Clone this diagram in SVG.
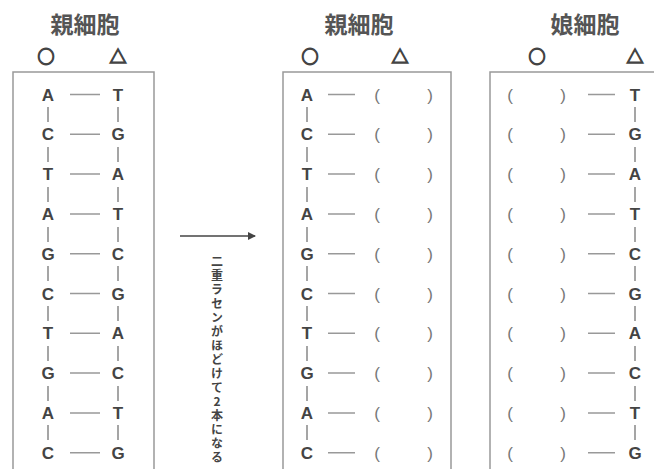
<svg xmlns="http://www.w3.org/2000/svg" width="654" height="469" viewBox="0 0 654 469">
<style>
.hd{font-family:"Noto Sans CJK JP",sans-serif;font-size:23px;font-weight:700;fill:#555;text-anchor:middle}
.sym{font-family:"Noto Sans CJK JP",sans-serif;font-size:17px;font-weight:700;fill:#444;stroke:#444;stroke-width:1.3;text-anchor:middle}
.box{fill:none;stroke:#999;stroke-width:1.5}
.b{font-family:"Liberation Sans",Arial,sans-serif;font-size:17px;font-weight:700;fill:#444;text-anchor:middle}
.p{font-family:"Liberation Sans",Arial,sans-serif;font-size:17px;fill:#777;text-anchor:middle}
.ln{stroke:#999;stroke-width:1.5}
.vb{stroke:#888;stroke-width:1.5}
.vt{font-family:"Noto Sans CJK JP",sans-serif;font-size:12px;font-weight:700;fill:#444;writing-mode:vertical-rl;text-orientation:upright;letter-spacing:2px}
</style>
<defs>
<marker id="ah" markerWidth="8" markerHeight="8" refX="7" refY="4" orient="auto" markerUnits="userSpaceOnUse">
<path d="M0,0 L8,4 L0,8 Z" fill="#444"/>
</marker>
</defs>

<g id="parent-before">
<text class="hd" x="85" y="33">親細胞</text>
<text class="sym" x="46" y="63">○</text>
<text class="sym" x="118" y="63">△</text>
<rect class="box" x="13" y="72" width="141" height="410"/>
<g>
<text class="b" x="48" y="100.5">A</text><text class="b" x="118" y="100.5">T</text>
<text class="b" x="48" y="140.3">C</text><text class="b" x="118" y="140.3">G</text>
<text class="b" x="48" y="180.1">T</text><text class="b" x="118" y="180.1">A</text>
<text class="b" x="48" y="219.9">A</text><text class="b" x="118" y="219.9">T</text>
<text class="b" x="48" y="259.7">G</text><text class="b" x="118" y="259.7">C</text>
<text class="b" x="48" y="299.5">C</text><text class="b" x="118" y="299.5">G</text>
<text class="b" x="48" y="339.3">T</text><text class="b" x="118" y="339.3">A</text>
<text class="b" x="48" y="379.1">G</text><text class="b" x="118" y="379.1">C</text>
<text class="b" x="48" y="418.9">A</text><text class="b" x="118" y="418.9">T</text>
<text class="b" x="48" y="458.7">C</text><text class="b" x="118" y="458.7">G</text>
</g>
<path class="ln" d="M70,94.5H100M70,134.3H100M70,174.1H100M70,213.9H100M70,253.7H100M70,293.5H100M70,333.3H100M70,373.1H100M70,412.9H100M70,452.7H100"/>
<path class="vb" d="M48,107V122M48,147V162M48,187V202M48,227V242M48,266V281M48,306V321M48,346V361M48,386V401M48,425V440M118,107V122M118,147V162M118,187V202M118,227V242M118,266V281M118,306V321M118,346V361M118,386V401M118,425V440"/>
</g>

<g id="connectors">
<line x1="180" y1="236" x2="255" y2="236" stroke="#444" stroke-width="1.6" marker-end="url(#ah)"/>
<text class="vt" x="217" y="255">二重ラセンがほどけて2本になる</text>
</g>

<g id="parent-after">
<text class="hd" x="359" y="33">親細胞</text>
<text class="sym" x="310" y="63">○</text>
<text class="sym" x="400" y="63">△</text>
<rect class="box" x="283" y="72" width="168" height="410"/>
<g>
<text class="b" x="307" y="100.5">A</text>
<text class="b" x="307" y="140.3">C</text>
<text class="b" x="307" y="180.1">T</text>
<text class="b" x="307" y="219.9">A</text>
<text class="b" x="307" y="259.7">G</text>
<text class="b" x="307" y="299.5">C</text>
<text class="b" x="307" y="339.3">T</text>
<text class="b" x="307" y="379.1">G</text>
<text class="b" x="307" y="418.9">A</text>
<text class="b" x="307" y="458.7">C</text>
</g>
<g>
<text class="p" x="377" y="100.5">(</text><text class="p" x="430" y="100.5">)</text>
<text class="p" x="377" y="140.3">(</text><text class="p" x="430" y="140.3">)</text>
<text class="p" x="377" y="180.1">(</text><text class="p" x="430" y="180.1">)</text>
<text class="p" x="377" y="219.9">(</text><text class="p" x="430" y="219.9">)</text>
<text class="p" x="377" y="259.7">(</text><text class="p" x="430" y="259.7">)</text>
<text class="p" x="377" y="299.5">(</text><text class="p" x="430" y="299.5">)</text>
<text class="p" x="377" y="339.3">(</text><text class="p" x="430" y="339.3">)</text>
<text class="p" x="377" y="379.1">(</text><text class="p" x="430" y="379.1">)</text>
<text class="p" x="377" y="418.9">(</text><text class="p" x="430" y="418.9">)</text>
<text class="p" x="377" y="458.7">(</text><text class="p" x="430" y="458.7">)</text>
</g>
<path class="ln" d="M328,94.5H355M328,134.3H355M328,174.1H355M328,213.9H355M328,253.7H355M328,293.5H355M328,333.3H355M328,373.1H355M328,412.9H355M328,452.7H355"/>
<path class="vb" d="M307,107V122M307,147V162M307,187V202M307,227V242M307,266V281M307,306V321M307,346V361M307,386V401M307,425V440"/>
</g>

<g id="daughter">
<text class="hd" x="585" y="33">娘細胞</text>
<text class="sym" x="537" y="63">○</text>
<text class="sym" x="635" y="63">△</text>
<rect class="box" x="490" y="72" width="180" height="410"/>
<g>
<text class="b" x="635" y="100.5">T</text>
<text class="b" x="635" y="140.3">G</text>
<text class="b" x="635" y="180.1">A</text>
<text class="b" x="635" y="219.9">T</text>
<text class="b" x="635" y="259.7">C</text>
<text class="b" x="635" y="299.5">G</text>
<text class="b" x="635" y="339.3">A</text>
<text class="b" x="635" y="379.1">C</text>
<text class="b" x="635" y="418.9">T</text>
<text class="b" x="635" y="458.7">G</text>
</g>
<g>
<text class="p" x="510" y="100.5">(</text><text class="p" x="563" y="100.5">)</text>
<text class="p" x="510" y="140.3">(</text><text class="p" x="563" y="140.3">)</text>
<text class="p" x="510" y="180.1">(</text><text class="p" x="563" y="180.1">)</text>
<text class="p" x="510" y="219.9">(</text><text class="p" x="563" y="219.9">)</text>
<text class="p" x="510" y="259.7">(</text><text class="p" x="563" y="259.7">)</text>
<text class="p" x="510" y="299.5">(</text><text class="p" x="563" y="299.5">)</text>
<text class="p" x="510" y="339.3">(</text><text class="p" x="563" y="339.3">)</text>
<text class="p" x="510" y="379.1">(</text><text class="p" x="563" y="379.1">)</text>
<text class="p" x="510" y="418.9">(</text><text class="p" x="563" y="418.9">)</text>
<text class="p" x="510" y="458.7">(</text><text class="p" x="563" y="458.7">)</text>
</g>
<path class="ln" d="M588,94.5H615M588,134.3H615M588,174.1H615M588,213.9H615M588,253.7H615M588,293.5H615M588,333.3H615M588,373.1H615M588,412.9H615M588,452.7H615"/>
<path class="vb" d="M635,107V122M635,147V162M635,187V202M635,227V242M635,266V281M635,306V321M635,346V361M635,386V401M635,425V440"/>
</g>
</svg>
